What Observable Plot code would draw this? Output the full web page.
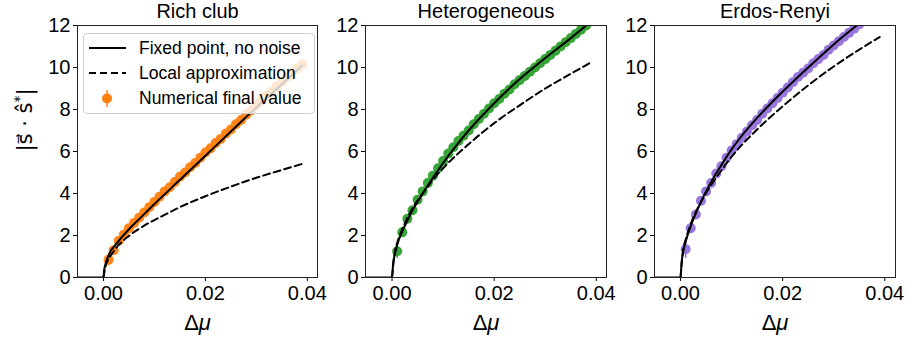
<!DOCTYPE html>
<html><head><meta charset="utf-8">
<script src="https://cdn.jsdelivr.net/npm/d3@7"></script>
<script src="https://cdn.jsdelivr.net/npm/@observablehq/plot@0.6"></script>
<style>
body{margin:0;background:#fff;}
#wrap{position:relative;width:909px;height:339px;font-family:"Liberation Sans",Arial,sans-serif;overflow:hidden;}
.p{position:absolute;top:0;}
#legend{position:absolute;left:83px;top:33px;width:232px;height:81px;background:rgba(255,255,255,0.8);border:1px solid #cfcfcf;border-radius:4px;box-sizing:border-box;}
#legend svg{position:absolute;left:-1px;top:-1px;overflow:visible;}
</style></head><body><div id="wrap"></div>
<script>
// ---- data ----
const titles = ["Rich club", "Heterogeneous", "Erdos-Renyi"];
const colors = ["#ff7f0e", "#2ca02c", "#9370db"];
const xTicks = [0, 0.02, 0.04];
const yTicks = [0, 2, 4, 6, 8, 10, 12];

const numX = [0.001,0.002,0.003,0.004,0.005,0.006,0.007,0.008,0.009,0.010,
  0.011,0.012,0.013,0.014,0.015,0.016,0.017,0.018,0.019,0.020,
  0.021,0.022,0.023,0.024,0.025,0.026,0.027,0.028,0.029,0.030,
  0.031,0.032,0.033,0.034,0.035,0.036,0.037,0.038,0.039];

const richNum = [0.85,1.3,1.75,2.05,2.35,2.6,2.85,3.1,3.35,3.6,
  3.85,4.1,4.3,4.55,4.8,5.0,5.25,5.45,5.7,5.95,
  6.15,6.4,6.6,6.85,7.05,7.3,7.5,7.75,7.95,8.2,
  8.4,8.65,8.85,9.1,9.3,9.55,9.75,9.95,10.15];
const hetNum = [1.25,2.15,2.8,3.2,3.7,4.1,4.5,4.85,5.2,5.55,
  5.9,6.2,6.5,6.75,7.0,7.3,7.55,7.8,8.05,8.3,
  8.5,8.75,8.95,9.2,9.4,9.6,9.8,10.0,10.2,10.4,
  10.6,10.8,11.0,11.2,11.4,11.6,11.8,12.0];
const erNum = [1.35,2.35,3.0,3.65,4.1,4.5,4.95,5.3,5.7,6.05,
  6.35,6.65,6.95,7.25,7.5,7.8,8.05,8.3,8.55,8.8,
  9.05,9.3,9.55,9.75,9.95,10.2,10.4,10.6,10.85,11.05,
  11.25,11.45,11.65,11.85,12.05];
// error bar half-widths (only visible near the origin)
const richErr = [0.3,0.2,0.15];
const hetErr = [0.35,0.2];
const erErr = [0.45,0.25];

const richFixedX = [-0.005,0,0.0001,0.0003,0.0006,0.001,0.0015,0.002,0.003,0.005,0.0075,0.01,0.015,0.02,0.025,0.03,0.035,0.039];
const richFixedY = [0,0,0.3,0.55,0.8,1.05,1.3,1.45,1.75,2.3,2.9,3.5,4.65,5.8,6.95,8.1,9.2,10.1];
const richLocalX = [0,0.0005,0.001,0.002,0.003,0.005,0.008,0.0115,0.015,0.02,0.025,0.03,0.035,0.039];
const richLocalY = [0,0.62,0.88,1.25,1.55,1.98,2.47,2.92,3.35,3.87,4.33,4.75,5.12,5.41];

const hetFixedX = [-0.005,0,0.0002,0.0005,0.001,0.002,0.003,0.004,0.005,0.006,0.008,0.01,0.012,0.015,0.02,0.025,0.03,0.035,0.039];
const hetFixedY = [0,0,0.65,1.05,1.55,2.2,2.7,3.2,3.6,4.0,4.75,5.45,6.1,7.0,8.3,9.45,10.45,11.4,12.2];
const hetLocalX = [0,0.0005,0.001,0.002,0.004,0.006,0.008,0.01,0.015,0.02,0.025,0.03,0.035,0.039];
const hetLocalY = [0,1.15,1.64,2.3,3.3,4.0,4.65,5.2,6.35,7.35,8.2,9.0,9.7,10.25];

const erFixedX = [-0.005,0,0.0002,0.0005,0.001,0.002,0.003,0.004,0.005,0.006,0.008,0.01,0.012,0.015,0.02,0.025,0.03,0.035,0.036];
const erFixedY = [0,0,0.7,1.2,1.7,2.45,3.05,3.6,4.1,4.55,5.35,6.1,6.75,7.6,8.85,10.0,11.1,12.1,12.3];
const erLocalX = [0,0.0005,0.001,0.002,0.004,0.006,0.008,0.01,0.015,0.02,0.025,0.03,0.035,0.039];
const erLocalY = [0,1.3,1.8,2.55,3.6,4.4,5.1,5.75,7.05,8.15,9.15,10.05,10.85,11.45];

// ---- layout ----
const panels = [
  {num: richNum, err: richErr, fx: richFixedX, fy: richFixedY, lx: richLocalX, ly: richLocalY, left: 0, width: 320, ml: 77, mr: 3, dom: [-0.0051, 0.042]},
  {num: hetNum, err: hetErr, fx: hetFixedX, fy: hetFixedY, lx: hetLocalX, ly: hetLocalY, left: 320, width: 289, ml: 45, mr: 3, dom: [-0.0052, 0.042]},
  {num: erNum, err: erErr, fx: erFixedX, fy: erFixedY, lx: erLocalX, ly: erLocalY, left: 609, width: 300, ml: 45, mr: 14, dom: [-0.0051, 0.0421]}
];

const wrap = document.getElementById("wrap");
const zip = (xs, ys) => xs.map((x, i) => ({x, y: ys[i]})).filter(d => d.y !== undefined);

panels.forEach((p, i) => {
  const pts = numX.map((x, j) => ({x, y: p.num[j], e: p.err[j] || 0})).filter(d => d.y !== undefined);
  const marks = [
    Plot.ruleX(pts.filter(d => d.e > 0), {x: "x", y1: d => d.y - d.e, y2: d => d.y + d.e, stroke: colors[i], strokeWidth: 1.5, clip: "frame"}),
    Plot.dot(pts, {x: "x", y: "y", r: 5, fill: colors[i], fillOpacity: 0.95, clip: "frame"}),
    Plot.line(zip(p.fx, p.fy), {x: "x", y: "y", stroke: "black", strokeWidth: 2, curve: "monotone-x", clip: "frame"}),
    Plot.line(zip(p.lx, p.ly), {x: "x", y: "y", stroke: "black", strokeWidth: 2, strokeDasharray: "7,4", curve: "monotone-x", clip: "frame"}),
    Plot.axisX({ticks: xTicks, tickFormat: d3.format(".2f"), tickSize: 4, tickPadding: 4, fontSize: 20, label: null}),
    Plot.axisY({ticks: yTicks, tickSize: 4, tickPadding: 3, fontSize: 20, label: null}),
    Plot.frame({stroke: "#222", strokeWidth: 1}),
    Plot.text([titles[i]], {frameAnchor: "top", lineAnchor: "middle", dy: -14, fontSize: 20}),
    Plot.text(["Δμ"], {frameAnchor: "bottom", lineAnchor: "middle", dy: 45, fontSize: 22, className: "xlab"})
  ];
  if (i === 0) {
    marks.push(Plot.text(["|s⃗ · ŝ*|"], {frameAnchor: "left", dx: -52, rotate: -90, fontSize: 21, fontFamily: "DejaVu Sans", className: "ylab"}));
  }
  const chart = Plot.plot({
    width: p.width, height: 339,
    marginLeft: p.ml, marginRight: p.mr, marginTop: 25, marginBottom: 62,
    x: {domain: p.dom},
    y: {domain: [0, 12]},
    style: {fontFamily: "'Liberation Sans', Arial, sans-serif", color: "black", background: "transparent", overflow: "visible"},
    marks
  });
  chart.classList.add("p");
  chart.style.left = p.left + "px";
  // math styling of labels
  chart.querySelectorAll(".xlab text").forEach(t => {
    t.innerHTML = '<tspan>Δ</tspan><tspan font-style="italic">μ</tspan>';
  });
  chart.querySelectorAll(".ylab text").forEach(t => {
    t.innerHTML = '<tspan>|s⃗ · ŝ</tspan><tspan dy="-8" font-size="14">*</tspan><tspan dy="8">|</tspan>';
  });
  wrap.appendChild(chart);
});

// legend (first panel)
const legend = document.createElement("div");
legend.id = "legend";
legend.innerHTML = `<svg width="232" height="81" font-family="Liberation Sans, Arial, sans-serif" font-size="17.5">
 <line x1="6" x2="43" y1="15" y2="15" stroke="black" stroke-width="2"/>
 <line x1="6" x2="43" y1="40" y2="40" stroke="black" stroke-width="2" stroke-dasharray="7,4"/>
 <line x1="24" x2="24" y1="57" y2="74" stroke="${colors[0]}" stroke-width="1.5"/>
 <circle cx="24" cy="65.5" r="5" fill="${colors[0]}"/>
 <text x="56" y="15" dy="0.35em">Fixed point, no noise</text>
 <text x="56" y="40" dy="0.35em">Local approximation</text>
 <text x="56" y="65" dy="0.35em">Numerical final value</text>
</svg>`;
wrap.appendChild(legend);
</script></body></html>
